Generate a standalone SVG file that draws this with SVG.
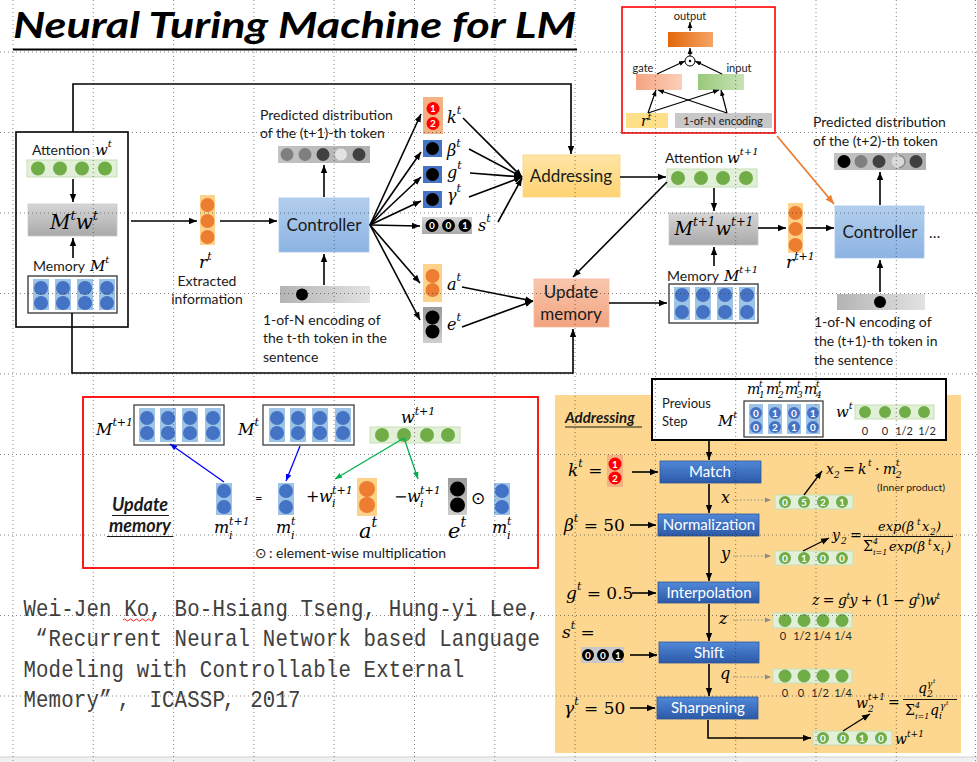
<svg xmlns="http://www.w3.org/2000/svg" width="977" height="762" viewBox="0 0 977 762">
<defs>
<style>
.t{font-family:Lato,"Open Sans","Liberation Sans",sans-serif;fill:#1a1a1a}
.m{font-family:"DejaVu Serif","Liberation Serif",serif;font-style:italic;fill:#000}
.u{font-family:"DejaVu Serif","Liberation Serif",serif;fill:#000}
.ln{stroke:#000;stroke-width:1.6;fill:none}
.a{marker-end:url(#ah)}
.gb{fill:#e2f0d9;stroke:#c5e0b4;stroke-width:1}
.gc{fill:#70ad47}
.bc{fill:#4472c4}
.bcol{fill:#9dc3e6}
.oc{fill:#ed7d31}
.ob{fill:#fdd28a}
.rc{fill:#ff0000}
.wd{font-family:Lato,"Liberation Sans",sans-serif;font-weight:700;font-size:10px;fill:#fff;text-anchor:middle}
.step{fill:url(#gStep);stroke:#2f5597;stroke-width:0.8}
.stxt{font-family:Lato,"Liberation Sans",sans-serif;font-size:15px;fill:#fff;text-anchor:middle}
.dt{stroke:#8c8c8c;stroke-width:1.2;stroke-dasharray:1.5 2;fill:none;marker-end:url(#ahg)}
.grid{stroke:#222;stroke-width:1;stroke-dasharray:1 3;fill:none;opacity:0.55}
.cite{font-family:"Liberation Mono","DejaVu Sans Mono",monospace;font-size:23px;fill:#404040;text-anchor:middle}
.num{font-family:Lato,"Liberation Sans",sans-serif;font-size:11px;fill:#262626;text-anchor:middle}
</style>
<marker id="ah" viewBox="0 0 10 10" refX="10" refY="5" markerWidth="8" markerHeight="8" markerUnits="userSpaceOnUse" orient="auto"><path d="M0,1 L10,5 L0,9 z" fill="#000"/></marker>
<marker id="ahs" viewBox="0 0 10 10" refX="10" refY="5" markerWidth="6" markerHeight="6" markerUnits="userSpaceOnUse" orient="auto"><path d="M0,1 L10,5 L0,9 z" fill="#000"/></marker>
<marker id="ahb" viewBox="0 0 10 10" refX="10" refY="5" markerWidth="7" markerHeight="7" markerUnits="userSpaceOnUse" orient="auto"><path d="M0,1 L10,5 L0,9 z" fill="#0000ff"/></marker>
<marker id="ahgr" viewBox="0 0 10 10" refX="10" refY="5" markerWidth="7" markerHeight="7" markerUnits="userSpaceOnUse" orient="auto"><path d="M0,1 L10,5 L0,9 z" fill="#00b050"/></marker>
<marker id="aho" viewBox="0 0 10 10" refX="10" refY="5" markerWidth="9" markerHeight="9" markerUnits="userSpaceOnUse" orient="auto"><path d="M0,1 L10,5 L0,9 z" fill="#ed7d31"/></marker>
<marker id="ahg" viewBox="0 0 10 10" refX="10" refY="5" markerWidth="6" markerHeight="6" markerUnits="userSpaceOnUse" orient="auto"><path d="M0,1 L10,5 L0,9 z" fill="#8c8c8c"/></marker>
<linearGradient id="gCtrl" x1="0" y1="0" x2="0" y2="1"><stop offset="0" stop-color="#b3cfee"/><stop offset="1" stop-color="#8cb3e2"/></linearGradient>
<linearGradient id="gAddr" x1="0" y1="0" x2="0" y2="1"><stop offset="0" stop-color="#ffe5a5"/><stop offset="1" stop-color="#fed372"/></linearGradient>
<linearGradient id="gUpd" x1="0" y1="0" x2="0" y2="1"><stop offset="0" stop-color="#f9c7ad"/><stop offset="1" stop-color="#f2a37f"/></linearGradient>
<linearGradient id="gGray" x1="0" y1="0" x2="0" y2="1"><stop offset="0" stop-color="#d6d6d6"/><stop offset="1" stop-color="#a9a9a9"/></linearGradient>
<linearGradient id="gBar" x1="0" y1="0" x2="1" y2="0"><stop offset="0" stop-color="#b4b4b4"/><stop offset="1" stop-color="#e2e2e2"/></linearGradient>
<linearGradient id="gDist" x1="0" y1="0" x2="1" y2="0"><stop offset="0" stop-color="#c4c4c4"/><stop offset="1" stop-color="#b0b0b0"/></linearGradient>
<linearGradient id="gE" x1="0" y1="0" x2="0" y2="1"><stop offset="0" stop-color="#9a9a9a"/><stop offset="1" stop-color="#cfcfcf"/></linearGradient>
<linearGradient id="gStep" x1="0" y1="0" x2="0" y2="1"><stop offset="0" stop-color="#5089d8"/><stop offset="1" stop-color="#2c59a8"/></linearGradient>
<linearGradient id="gOut" x1="0" y1="0" x2="1" y2="0"><stop offset="0" stop-color="#e3670b"/><stop offset="1" stop-color="#f4a466"/></linearGradient>
<linearGradient id="gGate" x1="0" y1="0" x2="1" y2="0"><stop offset="0" stop-color="#f4a482"/><stop offset="1" stop-color="#fbcfb9"/></linearGradient>
<linearGradient id="gIn" x1="0" y1="0" x2="1" y2="0"><stop offset="0" stop-color="#99c97a"/><stop offset="1" stop-color="#c8e2b8"/></linearGradient>
</defs>
<rect x="0" y="0" width="977" height="762" fill="#fff"/>

<g id="title">
<text x="13" y="38" font-family="Lato,'Open Sans',sans-serif" font-weight="700" font-style="italic" font-size="36" textLength="563" lengthAdjust="spacingAndGlyphs" fill="#000">Neural Turing Machine for LM</text>
<line x1="13" y1="49.5" x2="577" y2="49.5" stroke="#000" stroke-width="2.2"/>
</g>

<g id="left-block">
<rect x="16" y="132" width="112" height="195" fill="#fff" stroke="#000" stroke-width="1.6"/>
<text class="t" x="32" y="155" font-size="14">Attention</text>
<text class="m" x="95" y="155" font-size="15">w<tspan dy="-8" font-size="10">t</tspan></text>
<rect class="gb" x="27" y="160" width="90" height="17"/>
<circle class="gc" cx="38" cy="168.5" r="7"/><circle class="gc" cx="60" cy="168.5" r="7"/><circle class="gc" cx="82" cy="168.5" r="7"/><circle class="gc" cx="105" cy="168.5" r="7"/>
<rect x="28" y="204" width="89" height="32" fill="url(#gGray)" stroke="#c8c8c8" stroke-width="0.8"/>
<text class="m" x="74" y="229" font-size="20" text-anchor="middle">M<tspan dy="-9" font-size="13">t</tspan><tspan dy="9">w</tspan><tspan dy="-9" font-size="13">t</tspan></text>
<text class="t" x="33" y="271" font-size="14">Memory</text>
<text class="m" x="90" y="271" font-size="15">M<tspan dy="-8" font-size="10">t</tspan></text>
<rect x="28" y="276" width="89" height="37" fill="#fff" stroke="#404040" stroke-width="1.4"/>
<rect class="bcol" x="33" y="279" width="16" height="31"/><rect class="bcol" x="55" y="279" width="16" height="31"/><rect class="bcol" x="77" y="279" width="16" height="31"/><rect class="bcol" x="99" y="279" width="16" height="31"/>
<circle class="bc" cx="41" cy="288" r="7"/><circle class="bc" cx="63" cy="288" r="7"/><circle class="bc" cx="85" cy="288" r="7"/><circle class="bc" cx="107" cy="288" r="7"/>
<circle class="bc" cx="41" cy="303" r="7"/><circle class="bc" cx="63" cy="303" r="7"/><circle class="bc" cx="85" cy="303" r="7"/><circle class="bc" cx="107" cy="303" r="7"/>
</g>

<g id="rt">
<rect class="ob" x="200" y="195" width="15" height="50"/>
<circle class="oc" cx="207.5" cy="205" r="7"/><circle class="oc" cx="207.5" cy="221" r="7"/><circle class="oc" cx="207.5" cy="237" r="7"/>
<text class="m" x="199" y="268" font-size="17">r<tspan dy="-8" font-size="11">t</tspan></text>
<text class="t" x="207" y="286" font-size="14" text-anchor="middle">Extracted</text>
<text class="t" x="207" y="304" font-size="14" text-anchor="middle">information</text>
</g>

<g id="controller">
<rect x="279" y="198" width="90" height="54" fill="url(#gCtrl)" stroke="#a9c6ea" stroke-width="0.8"/>
<text class="t" x="324" y="231" font-size="17" text-anchor="middle">Controller</text>
</g>

<g id="pred1">
<text class="t" x="260" y="120" font-size="14">Predicted distribution</text>
<text class="t" x="260" y="138" font-size="14">of the (t+1)-th token</text>
<rect x="278" y="146" width="92" height="17" fill="url(#gDist)"/>
<circle cx="287" cy="154.5" r="6.5" fill="#7f7f7f"/><circle cx="305" cy="154.5" r="6.5" fill="#7f7f7f"/><circle cx="323" cy="154.5" r="6.5" fill="#404040"/><circle cx="341" cy="154.5" r="6.5" fill="#e2e2e2" stroke="#a6a6a6" stroke-width="0.6"/><circle cx="359" cy="154.5" r="6.5" fill="#404040"/>
</g>

<g id="onehot1">
<rect x="280" y="286" width="90" height="17" fill="url(#gBar)"/>
<circle cx="302" cy="294.5" r="6" fill="#000"/>
<text class="t" x="263" y="325" font-size="14">1-of-N encoding of</text>
<text class="t" x="263" y="343" font-size="14">the t-th token in the</text>
<text class="t" x="263" y="362" font-size="14">sentence</text>
</g>

<g id="heads">
<rect x="423" y="97" width="20" height="37" fill="#f4b183"/>
<circle class="rc" cx="433" cy="108.5" r="6.5"/><text class="wd" x="433" y="112">1</text>
<circle class="rc" cx="433" cy="123.5" r="6.5"/><text class="wd" x="433" y="127">2</text>
<text class="m" x="447" y="123" font-size="16">k<tspan dy="-9" font-size="11">t</tspan></text>
<rect x="423" y="140" width="19" height="17" fill="#4472c4"/><circle cx="432.5" cy="148.5" r="6.5" fill="#000"/>
<text class="m" x="447" y="156" font-size="16">β<tspan dy="-9" font-size="11">t</tspan></text>
<rect x="423" y="166" width="19" height="17" fill="#4472c4"/><circle cx="432.5" cy="174.5" r="6.5" fill="#000"/>
<text class="m" x="447" y="178" font-size="16">g<tspan dy="-9" font-size="11">t</tspan></text>
<rect x="423" y="191" width="19" height="17" fill="#4472c4"/><circle cx="432.5" cy="199.5" r="6.5" fill="#000"/>
<text class="m" x="447" y="201" font-size="16">γ<tspan dy="-9" font-size="11">t</tspan></text>
<rect x="422" y="217" width="50" height="17" fill="url(#gGray)"/>
<circle cx="432" cy="225.5" r="6.5" fill="#000"/><text class="wd" x="432" y="229">0</text>
<circle cx="448.5" cy="225.5" r="6.5" fill="#000"/><text class="wd" x="448.5" y="229">0</text>
<circle cx="465" cy="225.5" r="6.5" fill="#000"/><text class="wd" x="465" y="229">1</text>
<text class="m" x="478" y="231" font-size="16">s<tspan dy="-9" font-size="11">t</tspan></text>
<rect class="ob" x="423" y="264" width="19" height="38"/>
<circle class="oc" cx="432.5" cy="276" r="7"/><circle class="oc" cx="432.5" cy="290" r="7"/>
<text class="m" x="447" y="290" font-size="16">a<tspan dy="-9" font-size="11">t</tspan></text>
<rect x="423" y="307" width="19" height="36" fill="url(#gE)"/>
<circle cx="432.5" cy="317.5" r="7" fill="#000"/><circle cx="432.5" cy="331.5" r="7" fill="#000"/>
<text class="m" x="447" y="330" font-size="16">e<tspan dy="-9" font-size="11">t</tspan></text>
</g>

<g id="addressing">
<rect x="523" y="155" width="97" height="42" fill="url(#gAddr)" stroke="#fbd27e" stroke-width="0.8"/>
<text class="t" x="571" y="182" font-size="17" text-anchor="middle">Addressing</text>
</g>

<g id="update-memory">
<rect x="534" y="279" width="75" height="48" fill="url(#gUpd)" stroke="#f7bba0" stroke-width="0.8"/>
<text class="t" x="571" y="298" font-size="17" text-anchor="middle">Update</text>
<text class="t" x="571" y="320" font-size="17" text-anchor="middle">memory</text>
</g>

<g id="right-block">
<text class="t" x="665" y="163" font-size="14">Attention</text>
<text class="m" x="727" y="163" font-size="15">w<tspan dy="-8" font-size="10">t+1</tspan></text>
<rect class="gb" x="667" y="169" width="90" height="18"/>
<circle class="gc" cx="678" cy="178" r="7"/><circle class="gc" cx="701" cy="178" r="7"/><circle class="gc" cx="723" cy="178" r="7"/><circle class="gc" cx="746" cy="178" r="7"/>
<rect x="669" y="213" width="89" height="32" fill="url(#gGray)" stroke="#c8c8c8" stroke-width="0.8"/>
<text class="m" x="714" y="235" font-size="18" text-anchor="middle">M<tspan dy="-9" font-size="12">t+1</tspan><tspan dy="9">w</tspan><tspan dy="-9" font-size="12">t+1</tspan></text>
<text class="t" x="667" y="281" font-size="14">Memory</text>
<text class="m" x="724" y="281" font-size="15">M<tspan dy="-8" font-size="10">t+1</tspan></text>
<rect x="669" y="284" width="89" height="39" fill="#fff" stroke="#404040" stroke-width="1.4"/>
<rect class="bcol" x="674" y="287" width="16" height="33"/><rect class="bcol" x="695" y="287" width="16" height="33"/><rect class="bcol" x="717" y="287" width="16" height="33"/><rect class="bcol" x="739" y="287" width="16" height="33"/>
<circle class="bc" cx="682" cy="295" r="7"/><circle class="bc" cx="703" cy="295" r="7"/><circle class="bc" cx="725" cy="295" r="7"/><circle class="bc" cx="747" cy="295" r="7"/>
<circle class="bc" cx="682" cy="312" r="7"/><circle class="bc" cx="703" cy="312" r="7"/><circle class="bc" cx="725" cy="312" r="7"/><circle class="bc" cx="747" cy="312" r="7"/>
</g>

<g id="rt1">
<rect class="ob" x="788" y="203" width="15" height="50"/>
<circle class="oc" cx="795.5" cy="213" r="7"/><circle class="oc" cx="795.5" cy="229" r="7"/><circle class="oc" cx="795.5" cy="245" r="7"/>
<text class="m" x="786" y="268" font-size="17">r<tspan dy="-8" font-size="11">t+1</tspan></text>
</g>

<g id="controller2">
<rect x="835" y="206" width="89" height="52" fill="url(#gCtrl)" stroke="#a9c6ea" stroke-width="0.8"/>
<text class="t" x="880" y="238" font-size="17" text-anchor="middle">Controller</text>
<text class="t" x="929" y="238" font-size="15">…</text>
</g>

<g id="pred2">
<text class="t" x="813" y="127" font-size="14">Predicted distribution</text>
<text class="t" x="813" y="146" font-size="14">of the (t+2)-th token</text>
<rect x="834" y="153" width="92" height="17" fill="url(#gDist)"/>
<circle cx="844" cy="161.5" r="6.5" fill="#000"/><circle cx="861" cy="161.5" r="6.5" fill="#7f7f7f"/><circle cx="879" cy="161.5" r="6.5" fill="#404040"/><circle cx="898" cy="161.5" r="6.5" fill="#d9d9d9"/><path d="M899,155.5 A6,6 0 0 1 899,167.5" fill="none" stroke="#8a8a8a" stroke-width="1.4"/><circle cx="916" cy="161.5" r="6.5" fill="#404040"/>
</g>

<g id="onehot2">
<rect x="837" y="294" width="88" height="16" fill="url(#gBar)"/>
<circle cx="880" cy="302" r="6" fill="#000"/>
<text class="t" x="814" y="327" font-size="14">1-of-N encoding of</text>
<text class="t" x="814" y="346" font-size="14">the (t+1)-th token in</text>
<text class="t" x="814" y="365" font-size="14">the sentence</text>
</g>

<g id="controller-inset">
<rect x="622" y="7" width="153" height="126" fill="#fff" stroke="#ff0000" stroke-width="1.6"/>
<text class="t" x="690" y="20" font-size="11" text-anchor="middle" fill="#404040">output</text>
<rect x="668" y="32" width="45" height="15" fill="url(#gOut)"/>
<circle cx="690" cy="61" r="5" fill="#fff" stroke="#000" stroke-width="1"/><circle cx="690" cy="61" r="1.2" fill="#000"/>
<text class="t" x="643" y="72" font-size="11" text-anchor="middle" fill="#404040">gate</text>
<text class="t" x="739" y="72" font-size="11" text-anchor="middle" fill="#404040">input</text>
<rect x="636" y="74" width="46" height="16" fill="url(#gGate)"/>
<rect x="698" y="74" width="46" height="16" fill="url(#gIn)"/>
<rect x="626" y="113" width="42" height="15" fill="#ffe08a"/>
<text class="m" x="641" y="126" font-size="14">r<tspan dy="-6" font-size="9">t</tspan></text>
<rect x="675" y="113" width="97" height="15" fill="#c8c8c8"/>
<text class="t" x="723" y="124.5" font-size="11" text-anchor="middle" fill="#262626">1-of-N encoding</text>
<g stroke="#000" stroke-width="1.2" fill="none" marker-end="url(#ahs)">
<line x1="690" y1="31" x2="690" y2="22"/>
<line x1="690" y1="56" x2="690" y2="48"/>
<line x1="657" y1="74" x2="685" y2="61"/>
<line x1="722" y1="74" x2="695" y2="61"/>
<line x1="648" y1="113" x2="656" y2="90"/>
<line x1="648" y1="113" x2="719" y2="90"/>
<line x1="727" y1="113" x2="658" y2="90"/>
<line x1="727" y1="113" x2="721" y2="90"/>
</g>
</g>

<g id="update-panel">
<rect x="83" y="397" width="455" height="171" fill="#fff" stroke="#ff0000" stroke-width="1.8"/>
<text class="m" x="96" y="435" font-size="16">M<tspan dy="-9" font-size="11">t+1</tspan></text>
<rect x="134" y="405" width="90" height="40" fill="#fff" stroke="#404040" stroke-width="1.3"/>
<rect class="bcol" x="139" y="408" width="16" height="34"/><rect class="bcol" x="160" y="408" width="16" height="34"/><rect class="bcol" x="182" y="408" width="16" height="34"/><rect class="bcol" x="205" y="408" width="16" height="34"/>
<circle class="bc" cx="147" cy="418" r="7"/><circle class="bc" cx="168" cy="418" r="7"/><circle class="bc" cx="190" cy="418" r="7"/><circle class="bc" cx="213" cy="418" r="7"/>
<circle class="bc" cx="147" cy="433" r="7"/><circle class="bc" cx="168" cy="433" r="7"/><circle class="bc" cx="190" cy="433" r="7"/><circle class="bc" cx="213" cy="433" r="7"/>
<text class="m" x="238" y="435" font-size="16">M<tspan dy="-9" font-size="11">t</tspan></text>
<rect x="263" y="405" width="91" height="40" fill="#fff" stroke="#404040" stroke-width="1.3"/>
<rect class="bcol" x="269" y="408" width="16" height="34"/><rect class="bcol" x="290" y="408" width="16" height="34"/><rect class="bcol" x="312" y="408" width="16" height="34"/><rect class="bcol" x="335" y="408" width="16" height="34"/>
<circle class="bc" cx="277" cy="418" r="7"/><circle class="bc" cx="298" cy="418" r="7"/><circle class="bc" cx="320" cy="418" r="7"/><circle class="bc" cx="343" cy="418" r="7"/>
<circle class="bc" cx="277" cy="433" r="7"/><circle class="bc" cx="298" cy="433" r="7"/><circle class="bc" cx="320" cy="433" r="7"/><circle class="bc" cx="343" cy="433" r="7"/>
<text class="m" x="401" y="423" font-size="16">w<tspan dy="-8" font-size="11">t+1</tspan></text>
<rect class="gb" x="370" y="427" width="90" height="16"/>
<circle class="gc" cx="382" cy="435" r="7"/><circle class="gc" cx="404" cy="435" r="7"/><circle class="gc" cx="427" cy="435" r="7"/><circle class="gc" cx="448" cy="435" r="7"/>
<rect class="bcol" x="216" y="483" width="16" height="32"/>
<circle class="bc" cx="224" cy="491" r="7"/><circle class="bc" cx="224" cy="507" r="7"/>
<text class="t" x="255" y="503" font-size="13">=</text>
<rect class="bcol" x="278" y="483" width="16" height="32"/>
<circle class="bc" cx="286" cy="491" r="7"/><circle class="bc" cx="286" cy="507" r="7"/>
<text class="u" x="306" y="502" font-size="16">+</text><text class="m" x="319" y="502" font-size="16">w</text><text class="m" x="332" y="494" font-size="11">t+1</text><text class="m" x="332" y="507" font-size="11">i</text>
<rect class="ob" x="357" y="478" width="20" height="38"/>
<circle class="oc" cx="367" cy="489" r="8"/><circle class="oc" cx="367" cy="505" r="8"/>
<text class="u" x="394" y="502" font-size="16">−</text><text class="m" x="407" y="502" font-size="16">w</text><text class="m" x="420" y="494" font-size="11">t+1</text><text class="m" x="420" y="507" font-size="11">i</text>
<rect x="448" y="478" width="19" height="37" fill="url(#gE)"/>
<circle cx="457.5" cy="489" r="7.5" fill="#000"/><circle cx="457.5" cy="505" r="7.5" fill="#000"/>
<text x="478" y="504" font-family="'DejaVu Sans',sans-serif" font-size="17" text-anchor="middle" fill="#000">⊙</text>
<rect class="bcol" x="494" y="483" width="16" height="32"/>
<circle class="bc" cx="502" cy="491" r="7"/><circle class="bc" cx="502" cy="507" r="7"/>
<text class="m" x="214" y="533" font-size="16">m</text><text class="m" x="229" y="525" font-size="11">t+1</text><text class="m" x="229" y="539" font-size="11">i</text>
<text class="m" x="276" y="533" font-size="16">m</text><text class="m" x="291" y="525" font-size="11">t</text><text class="m" x="291" y="539" font-size="11">i</text>
<text class="m" x="359" y="538" font-size="21">a<tspan dy="-11" font-size="14">t</tspan></text>
<text class="m" x="448" y="538" font-size="21">e<tspan dy="-11" font-size="14">t</tspan></text>
<text class="m" x="492" y="533" font-size="16">m</text><text class="m" x="507" y="525" font-size="11">t</text><text class="m" x="507" y="539" font-size="11">i</text>
<text class="t" x="140" y="511" font-size="18" font-weight="700" font-style="italic" text-anchor="middle">Update</text>
<line x1="112" y1="515.5" x2="169" y2="515.5" stroke="#1a1a1a" stroke-width="1.2"/>
<text class="t" x="140" y="532" font-size="18" font-weight="700" font-style="italic" text-anchor="middle">memory</text>
<line x1="107" y1="536.5" x2="173" y2="536.5" stroke="#1a1a1a" stroke-width="1.2"/>
<text x="255" y="558" font-family="'DejaVu Sans',sans-serif" font-size="14" fill="#1a1a1a">⊙</text>
<text class="t" x="269" y="558" font-size="14">: element-wise multiplication</text>
<line x1="224" y1="482" x2="170" y2="444" stroke="#0000ff" stroke-width="1.3" marker-end="url(#ahb)"/>
<line x1="300" y1="446" x2="286" y2="481" stroke="#0000ff" stroke-width="1.3" marker-end="url(#ahb)"/>
<line x1="404" y1="438" x2="335" y2="479" stroke="#00b050" stroke-width="1.3" marker-end="url(#ahgr)"/>
<line x1="404" y1="438" x2="418" y2="479" stroke="#00b050" stroke-width="1.3" marker-end="url(#ahgr)"/>
</g>

<g id="addressing-panel">
<rect x="555" y="395" width="406" height="358" fill="#fdd78f"/>
<text class="t" x="565" y="423" font-size="15" font-weight="700" font-style="italic">Addressing</text>
<line x1="565" y1="427" x2="642" y2="427" stroke="#1a1a1a" stroke-width="1.2"/>
<rect x="652" y="379" width="294" height="61" fill="#fff" stroke="#000" stroke-width="2"/>
<text class="t" x="662" y="408" font-size="13">Previous</text>
<text class="t" x="662" y="426" font-size="13">Step</text>
<text class="m" x="718" y="426" font-size="15">M<tspan dy="-8" font-size="10">t</tspan></text>
<text class="m" x="747" y="394" font-size="14">m</text><text class="m" x="759" y="387" font-size="9">t</text><text class="m" x="759" y="398" font-size="9">1</text>
<text class="m" x="766" y="394" font-size="14">m</text><text class="m" x="778" y="387" font-size="9">t</text><text class="m" x="778" y="398" font-size="9">2</text>
<text class="m" x="785" y="394" font-size="14">m</text><text class="m" x="797" y="387" font-size="9">t</text><text class="m" x="797" y="398" font-size="9">3</text>
<text class="m" x="804" y="394" font-size="14">m</text><text class="m" x="816" y="387" font-size="9">t</text><text class="m" x="816" y="398" font-size="9">4</text>
<rect x="744" y="401" width="79" height="36" fill="#fff" stroke="#404040" stroke-width="1.3"/>
<rect class="bcol" x="749" y="404" width="14" height="30"/><rect class="bcol" x="768" y="404" width="14" height="30"/><rect class="bcol" x="787" y="404" width="14" height="30"/><rect class="bcol" x="806" y="404" width="14" height="30"/>
<circle class="bc" cx="756" cy="413" r="6"/><text class="wd" x="756" y="416.5">0</text>
<circle class="bc" cx="756" cy="427" r="6"/><text class="wd" x="756" y="430.5">0</text>
<circle class="bc" cx="775" cy="413" r="6"/><text class="wd" x="775" y="416.5">1</text>
<circle class="bc" cx="775" cy="427" r="6"/><text class="wd" x="775" y="430.5">2</text>
<circle class="bc" cx="794" cy="413" r="6"/><text class="wd" x="794" y="416.5">0</text>
<circle class="bc" cx="794" cy="427" r="6"/><text class="wd" x="794" y="430.5">1</text>
<circle class="bc" cx="813" cy="413" r="6"/><text class="wd" x="813" y="416.5">1</text>
<circle class="bc" cx="813" cy="427" r="6"/><text class="wd" x="813" y="430.5">0</text>
<text class="m" x="836" y="417" font-size="15">w<tspan dy="-8" font-size="10">t</tspan></text>
<rect class="gb" x="855" y="405" width="79" height="14"/>
<circle class="gc" cx="865" cy="412" r="6"/><circle class="gc" cx="885" cy="412" r="6"/><circle class="gc" cx="905" cy="412" r="6"/><circle class="gc" cx="924" cy="412" r="6"/>
<text class="num" x="865" y="435" font-size="13">0</text><text class="num" x="885" y="435" font-size="13">0</text><text class="num" x="904" y="435" font-size="13">1/2</text><text class="num" x="927" y="435" font-size="13">1/2</text>

<text class="m" x="568" y="476" font-size="17">k<tspan dy="-9" font-size="11">t</tspan><tspan dy="9" font-style="normal"> =</tspan></text>
<rect x="607" y="455" width="16" height="32" fill="#f4b183"/>
<circle class="rc" cx="615" cy="464" r="6.5"/><text class="wd" x="615" y="467.5">1</text>
<circle class="rc" cx="615" cy="478" r="6.5"/><text class="wd" x="615" y="481.5">2</text>
<rect class="step" x="660" y="461" width="101" height="22"/>
<text class="stxt" x="710" y="477">Match</text>
<text class="m" x="721" y="503" font-size="16">x</text>
<rect class="gb" x="775" y="495" width="78" height="14"/>
<circle class="gc" cx="785" cy="502" r="6"/><text class="wd" x="785" y="505.5">0</text>
<circle class="gc" cx="804" cy="502" r="6"/><text class="wd" x="804" y="505.5">5</text>
<circle class="gc" cx="823" cy="502" r="6"/><text class="wd" x="823" y="505.5">2</text>
<circle class="gc" cx="842" cy="502" r="6"/><text class="wd" x="842" y="505.5">1</text>
<text class="m" x="826" y="474" font-size="14">x</text><text class="m" x="834" y="478" font-size="9">2</text><text class="u" x="843" y="474" font-size="14">=</text><text class="m" x="858" y="474" font-size="14">k</text><text class="m" x="868" y="466" font-size="9">t</text><text class="u" x="875" y="474" font-size="14">·</text><text class="m" x="883" y="474" font-size="14">m</text><text class="m" x="896" y="466" font-size="9">t</text><text class="m" x="896" y="478" font-size="9">2</text>
<text class="t" x="877" y="491" font-size="10" textLength="68" lengthAdjust="spacingAndGlyphs" fill="#262626">(Inner product)</text>

<text class="m" x="564" y="531" font-size="17">β<tspan dy="-9" font-size="11">t</tspan><tspan dy="9" font-style="normal"> = 50</tspan></text>
<rect class="step" x="658" y="514" width="101" height="22"/>
<text class="stxt" x="709" y="530">Normalization</text>
<text class="m" x="721" y="559" font-size="16">y</text>
<rect class="gb" x="775" y="551" width="78" height="14"/>
<circle class="gc" cx="785" cy="558" r="6"/><text class="wd" x="785" y="561.5">0</text>
<circle class="gc" cx="804" cy="558" r="6"/><text class="wd" x="804" y="561.5">1</text>
<circle class="gc" cx="823" cy="558" r="6"/><text class="wd" x="823" y="561.5">0</text>
<circle class="gc" cx="842" cy="558" r="6"/><text class="wd" x="842" y="561.5">0</text>
<text class="m" x="832" y="540" font-size="14">y</text><text class="m" x="841" y="544" font-size="9">2</text><text class="u" x="850" y="540" font-size="14">=</text>
<text class="m" x="878" y="531" font-size="13">exp(β</text><text class="m" x="917" y="525" font-size="9">t</text><text class="m" x="922" y="531" font-size="13">x</text><text class="m" x="930" y="535" font-size="9">2</text><text class="m" x="936" y="531" font-size="13">)</text>
<line x1="863" y1="536.5" x2="953" y2="536.5" stroke="#000" stroke-width="0.9"/>
<text class="u" x="863" y="551" font-size="14">Σ</text><text class="m" x="873" y="544" font-size="8">4</text><text class="m" x="873" y="555" font-size="8">i=1</text>
<text class="m" x="889" y="551" font-size="13">exp(β</text><text class="m" x="928" y="545" font-size="9">t</text><text class="m" x="933" y="551" font-size="13">x</text><text class="m" x="941" y="555" font-size="9">i</text><text class="m" x="946" y="551" font-size="13">)</text>

<text class="m" x="566" y="599" font-size="17">g<tspan dy="-9" font-size="11">t</tspan><tspan dy="9" font-style="normal"> = 0.5</tspan></text>
<rect class="step" x="658" y="582" width="101" height="21"/>
<text class="stxt" x="709" y="598">Interpolation</text>
<text class="m" x="812" y="605" font-size="14" textLength="128" lengthAdjust="spacing">z <tspan font-style="normal">=</tspan> g<tspan dy="-6" font-size="9">t</tspan><tspan dy="6">y </tspan><tspan font-style="normal">+ (1 − </tspan>g<tspan dy="-6" font-size="9">t</tspan><tspan dy="6" font-style="normal">)</tspan>w<tspan dy="-6" font-size="9">t</tspan></text>
<text class="m" x="719" y="624" font-size="16">z</text>
<rect class="gb" x="773" y="613" width="79" height="15"/>
<circle class="gc" cx="785" cy="620.5" r="6.5"/><circle class="gc" cx="804" cy="620.5" r="6.5"/><circle class="gc" cx="823" cy="620.5" r="6.5"/><circle class="gc" cx="842" cy="620.5" r="6.5"/>
<text class="num" x="783" y="640">0</text><text class="num" x="802" y="640">1/2</text><text class="num" x="822" y="640">1/4</text><text class="num" x="843" y="640">1/4</text>

<text class="m" x="562" y="638" font-size="17">s<tspan dy="-9" font-size="11">t</tspan><tspan dy="9" font-style="normal"> =</tspan></text>
<rect x="581" y="647" width="43" height="16" fill="#c8c8c8"/>
<circle cx="588" cy="655" r="6" fill="#000"/><text class="wd" x="588" y="658.5">0</text>
<circle cx="603" cy="655" r="6" fill="#000"/><text class="wd" x="603" y="658.5">0</text>
<circle cx="618" cy="655" r="6" fill="#000"/><text class="wd" x="618" y="658.5">1</text>
<rect class="step" x="659" y="642" width="100" height="21"/>
<text class="stxt" x="709" y="658">Shift</text>
<text class="m" x="720" y="679" font-size="16">q</text>
<rect class="gb" x="773" y="669" width="79" height="14"/>
<circle class="gc" cx="785" cy="676" r="6.5"/><circle class="gc" cx="804" cy="676" r="6.5"/><circle class="gc" cx="823" cy="676" r="6.5"/><circle class="gc" cx="842" cy="676" r="6.5"/>
<text class="num" x="785" y="697">0</text><text class="num" x="801" y="697">0</text><text class="num" x="820" y="697">1/2</text><text class="num" x="843" y="697">1/4</text>

<text class="m" x="564" y="714" font-size="17">γ<tspan dy="-9" font-size="11">t</tspan><tspan dy="9" font-style="normal"> = 50</tspan></text>
<rect class="step" x="657" y="697" width="101" height="22"/>
<text class="stxt" x="708" y="713">Sharpening</text>
<rect class="gb" x="813" y="731" width="79" height="14"/>
<circle class="gc" cx="823" cy="738" r="6"/><text class="wd" x="823" y="741.5">0</text>
<circle class="gc" cx="843" cy="738" r="6"/><text class="wd" x="843" y="741.5">0</text>
<circle class="gc" cx="862" cy="738" r="6"/><text class="wd" x="862" y="741.5">1</text>
<circle class="gc" cx="881" cy="738" r="6"/><text class="wd" x="881" y="741.5">0</text>
<text class="m" x="895" y="744" font-size="14">w<tspan dy="-7" font-size="9">t+1</tspan></text>
<text class="m" x="856" y="708" font-size="14">w</text><text class="m" x="868" y="700" font-size="9">t+1</text><text class="m" x="868" y="712" font-size="9">2</text><text class="u" x="888" y="707" font-size="14">=</text>
<text class="m" x="918" y="693" font-size="14">q</text><text class="m" x="927" y="697" font-size="9">2</text><text class="m" x="927" y="687" font-size="9">γ</text><text class="m" x="933" y="683" font-size="6">t</text>
<line x1="903" y1="699.5" x2="957" y2="699.5" stroke="#000" stroke-width="0.9"/>
<text class="u" x="905" y="715" font-size="14">Σ</text><text class="m" x="915" y="708" font-size="8">4</text><text class="m" x="915" y="719" font-size="8">i=1</text>
<text class="m" x="930" y="715" font-size="14">q</text><text class="m" x="939" y="719" font-size="9">i</text><text class="m" x="940" y="709" font-size="9">γ</text><text class="m" x="946" y="705" font-size="6">t</text>

<g class="ln" stroke-width="1.5">
<line class="a" x1="709" y1="440" x2="709" y2="460"/>
<line class="a" x1="632" y1="472" x2="658" y2="472"/>
<line class="a" x1="709" y1="484" x2="709" y2="513"/>
<line class="a" x1="630" y1="525" x2="656" y2="525"/>
<line class="a" x1="709" y1="537" x2="709" y2="581"/>
<line class="a" x1="632" y1="593" x2="656" y2="593"/>
<line class="a" x1="709" y1="604" x2="709" y2="641"/>
<line class="a" x1="630" y1="655" x2="657" y2="655"/>
<line class="a" x1="709" y1="664" x2="709" y2="696"/>
<line class="a" x1="630" y1="708" x2="655" y2="708"/>
<polyline class="a" points="708,720 708,738 811,738"/>
<line class="a" x1="804" y1="495" x2="822" y2="471" stroke-width="1.3"/>
<line class="a" x1="803" y1="551" x2="829" y2="538" stroke-width="1.3"/>
<line class="a" x1="843" y1="731" x2="870" y2="714" stroke-width="1.3"/>
</g>
<line class="dt" x1="733" y1="500" x2="771" y2="500"/>
<line class="dt" x1="733" y1="556" x2="771" y2="556"/>
<line class="dt" x1="733" y1="620" x2="771" y2="620"/>
<line class="dt" x1="733" y1="677" x2="771" y2="677"/>
</g>

<g id="citation">
<g transform="scale(0.9,1)">
<text class="cite" y="616" x="32.9 46.9 60.9 74.9 88.9 102.9 116.9 130.9 144.9 158.9 172.9 186.9 200.9 214.9 228.9 242.9 256.9 270.9 284.9 298.9 312.9 326.9 340.9 354.9 368.9 382.9 396.9 410.9 424.9 438.9 452.9 466.9 480.9 494.9 508.9 522.9 536.9 550.9 564.9 578.9 592.9 606.9">Wei-Jen Ko, Bo-Hsiang Tseng, Hung-yi Lee,</text>
<text class="cite" y="646" x="46.1 60.9 74.9 88.9 102.9 116.9 130.9 144.9 158.9 172.9 186.9 200.9 214.9 228.9 242.9 256.9 270.9 284.9 298.9 312.9 326.9 340.9 354.9 368.9 382.9 396.9 410.9 424.9 438.9 452.9 466.9 480.9 494.9 508.9 522.9 536.9 550.9 564.9 578.9 592.9">“Recurrent Neural Network based Language</text>
<text class="cite" y="677" x="32.9 46.9 60.9 74.9 88.9 102.9 116.9 130.9 144.9 158.9 172.9 186.9 200.9 214.9 228.9 242.9 256.9 270.9 284.9 298.9 312.9 326.9 340.9 354.9 368.9 382.9 396.9 410.9 424.9 438.9 452.9 466.9 480.9 494.9 508.9">Modeling with Controllable External</text>
<text class="cite" y="707" x="32.9 46.9 60.9 74.9 88.9 102.9 117.2 137.8 172.9 186.9 200.9 214.9 228.9 242.9 254.4 284.9 298.9 312.9 326.9">Memory”,ICASSP,2017</text>
</g>
<path d="M123,620 q1.5,-2 3,0 t3,0 t3,0 t3,0 t3,0 t3,0 t3,0 t3,0 t3,0 t3,0" fill="none" stroke="#ff0000" stroke-width="0.9"/>
</g>

<g id="connectors" class="ln">
<polyline class="a" points="73,132 73,84 571,84 571,154"/>
<polyline class="a" points="72,313 72,373 573,373 573,329"/>
<line class="a" x1="73" y1="179" x2="73" y2="202"/>
<line class="a" x1="73" y1="258" x2="73" y2="238"/>
<line class="a" x1="131" y1="221" x2="197" y2="221"/>
<line class="a" x1="220" y1="221" x2="277" y2="221"/>
<line class="a" x1="324" y1="197" x2="324" y2="165"/>
<line class="a" x1="324" y1="285" x2="324" y2="254"/>
<line class="a" x1="370" y1="225" x2="421" y2="114"/>
<line class="a" x1="370" y1="225" x2="421" y2="152"/>
<line class="a" x1="370" y1="225" x2="421" y2="177"/>
<line class="a" x1="370" y1="225" x2="421" y2="201"/>
<line class="a" x1="370" y1="225" x2="420" y2="226"/>
<line class="a" x1="370" y1="225" x2="420" y2="283"/>
<line class="a" x1="370" y1="225" x2="420" y2="320"/>
<line class="a" x1="463" y1="118" x2="522" y2="177"/>
<line class="a" x1="469" y1="149" x2="522" y2="177"/>
<line class="a" x1="470" y1="173" x2="522" y2="177"/>
<line class="a" x1="469" y1="197" x2="522" y2="177"/>
<line class="a" x1="498" y1="222" x2="522" y2="178"/>
<line class="a" x1="462" y1="287" x2="533" y2="301"/>
<line class="a" x1="462" y1="327" x2="533" y2="301"/>
<line class="a" x1="620" y1="177" x2="666" y2="177"/>
<line class="a" x1="667" y1="182" x2="573" y2="277"/>
<line class="a" x1="609" y1="303" x2="667" y2="303"/>
<line class="a" x1="714" y1="188" x2="714" y2="211"/>
<line class="a" x1="714" y1="266" x2="714" y2="247"/>
<line class="a" x1="758" y1="228" x2="786" y2="228"/>
<line class="a" x1="806" y1="228" x2="834" y2="228"/>
<line class="a" x1="880" y1="205" x2="880" y2="172"/>
<line class="a" x1="880" y1="292" x2="880" y2="260"/>
<line x1="777" y1="136" x2="834" y2="204" stroke="#ed7d31" stroke-width="1.8" marker-end="url(#aho)"/>
</g>

<rect x="0" y="757" width="977" height="5" fill="#f0f0f0"/>
<line x1="0" y1="757" x2="977" y2="757" stroke="#d0d0d0" stroke-width="1"/>

<path class="grid" d="M13,0V762M93.3,0V762M173.6,0V762M253.9,0V762M334.2,0V762M414.5,0V762M494.8,0V762M575.1,0V762M655.4,0V762M735.7,0V762M816,0V762M896.3,0V762M975.5,0V762M0,52H977M0,132.5H977M0,213H977M0,293.5H977M0,374H977M0,454.5H977M0,535H977M0,615.5H977M0,696H977"/>
</svg>
